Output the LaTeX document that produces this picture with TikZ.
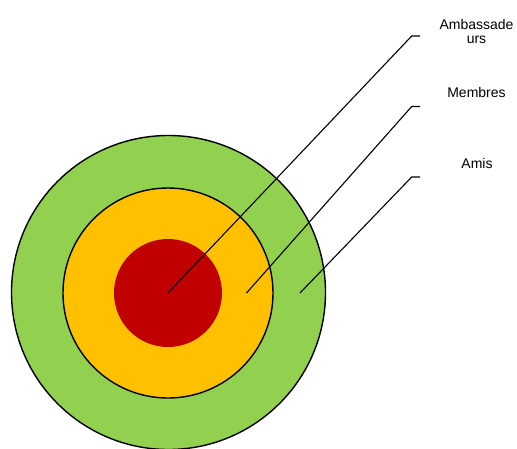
\documentclass[tikz,border=0pt]{standalone}
\usepackage{fontspec}
\setmainfont{Liberation Sans}
\definecolor{ringgreen}{HTML}{92D050}
\definecolor{ringorange}{HTML}{FFC000}
\definecolor{ringred}{HTML}{C00000}
\begin{document}
\begin{tikzpicture}[x=1pt,y=-1pt,
  ring/.style={circle, draw=black, line width=1.4pt, inner sep=0pt},
  lbl/.style={inner sep=0pt, font=\fontsize{14}{14.5}\selectfont, align=center},
  leader/.style={draw=black, line width=1.1pt}]
\clip (0,0) rectangle (517,448);
\useasboundingbox (0,0) rectangle (517,448);
\node[ring, fill=ringgreen, minimum size=314pt] (amis) at (168.5,292.5) {};
\node[ring, fill=ringorange, minimum size=210pt] (membres) at (168,293) {};
\node[circle, fill=ringred, inner sep=0pt, minimum size=108pt] (amb) at (168,293) {};
\node[lbl, anchor=north] (tamb) at (476.5,19) {Ambassade\\urs};
\node[lbl, anchor=base] (tmem) at (476.5,97) {Membres};
\node[lbl, anchor=base] (tamis) at (477,168) {Amis};
\coordinate (e2) at (246.5,293);
\coordinate (e3) at (300,293);
\coordinate (k1) at (411.7,36);
\coordinate (k2) at (411.7,106.5);
\coordinate (k3) at (411.7,177);
\draw[leader] (amb.center) -- (k1) -- ++(8.5,0);
\draw[leader] (e2) -- (k2) -- ++(8.5,0);
\draw[leader] (e3) -- (k3) -- ++(8.5,0);
\end{tikzpicture}
\end{document}
